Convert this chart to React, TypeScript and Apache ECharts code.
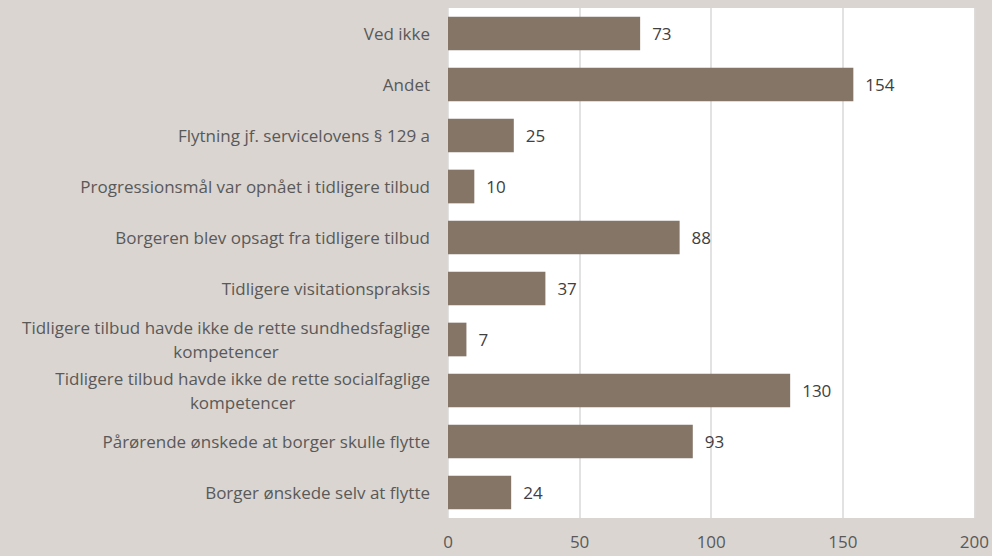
import React, { useEffect, useRef } from "react";
import * as echarts from "echarts";

const categories = [
  "Ved ikke",
  "Andet",
  "Flytning jf. servicelovens § 129 a",
  "Progressionsmål var opnået i tidligere tilbud",
  "Borgeren blev opsagt fra tidligere tilbud",
  "Tidligere visitationspraksis",
  "Tidligere tilbud havde ikke de rette sundhedsfaglige\nkompetencer",
  "Tidligere tilbud havde ikke de rette socialfaglige\nkompetencer",
  "Pårørende ønskede at borger skulle flytte",
  "Borger ønskede selv at flytte",
];
const values = [73, 154, 25, 10, 88, 37, 7, 130, 93, 24];
const xTicks = { min: 0, max: 200, interval: 50 };

const FONT = "'Open Sans', sans-serif";
const FS = 17;

export default function App() {
  const ref = useRef<HTMLDivElement>(null);
  useEffect(() => {
    document.body.style.margin = "0";
    const chart = echarts.init(ref.current!, undefined, { renderer: "svg" });
    chart.setOption({
      animation: false,
      backgroundColor: "#DAD5D1",
      textStyle: { fontFamily: FONT },
      grid: {
        left: 448,
        right: 15,
        top: 8,
        bottom: 38,
        show: true,
        backgroundColor: "#FFFFFF",
        borderWidth: 0,
      },
      xAxis: {
        type: "value",
        min: xTicks.min,
        max: xTicks.max,
        interval: xTicks.interval,
        axisLine: { show: false },
        axisTick: { show: false },
        axisLabel: { color: "#595959", fontSize: FS, margin: 15, fontFamily: FONT },
        splitLine: { show: true, lineStyle: { color: "#D9D9D9", width: 1.5 } },
      },
      yAxis: {
        type: "category",
        data: categories,
        inverse: true,
        axisLine: { show: false },
        axisTick: { show: false },
        axisLabel: {
          color: "#595959",
          fontSize: FS,
          margin: 18,
          lineHeight: 24,
          fontFamily: FONT,
          formatter: (v: string) =>
            v
              .split("\n")
              .map((s) => "{c|" + s + "}")
              .join("\n"),
          rich: {
            c: {
              align: "center",
              color: "#595959",
              fontSize: FS,
              lineHeight: 24,
              fontFamily: FONT,
            },
          },
        },
      },
      series: [
        {
          type: "bar",
          data: values,
          barWidth: "66%",
          itemStyle: { color: "#857567" },
          label: {
            show: true,
            position: "right",
            distance: 12,
            color: "#404040",
            fontSize: FS,
            fontFamily: FONT,
          },
        },
      ],
    });
    return () => chart.dispose();
  }, []);
  return <div ref={ref} style={{ width: 992, height: 556 }} />;
}
